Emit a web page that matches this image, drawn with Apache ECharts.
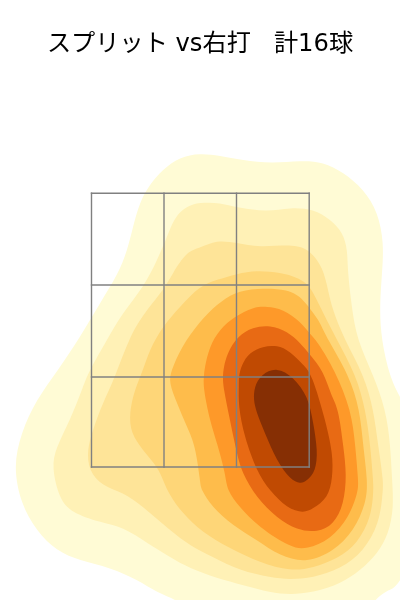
<!DOCTYPE html>
<html><head><meta charset="utf-8">
<style>html,body{margin:0;padding:0;background:#fff}#c{width:400px;height:600px}</style>
<script src="https://cdn.jsdelivr.net/npm/echarts@6/dist/echarts.min.js"></script>
</head><body><div id="c"></div>
<script>
const titleText = "スプリット vs右打   計16球";
const level1 = [[0,446],[20,444],[43,440],[72,437],[100,439],[123,437],[143,427],[163,410],[177,387],[183,357],[182,327],[180,293],[182,260],[190,225],[200,202],[220,160],[225,80],[200,18],[187,10],[175,0],[160,-12],[100,-28],[-5,-10],[-23,0],[-43,8],[-63,20],[-90,32],[-120,40],[-143,50],[-163,70],[-178,97],[-185,133],[-178,167],[-163,200],[-142,230],[-120,263],[-100,297],[-83,325],[-73,350],[-67,373],[-60,397],[-50,415],[-37,430],[-20,442]];
const level2 = [[0,397],[20,397],[40,392],[67,389],[90,392],[113,390],[130,380],[142,367],[147,350],[148,327],[152,293],[158,260],[173,225],[185,190],[190,155],[192,120],[193,93],[188,67],[177,47],[160,30],[140,17],[113,8],[90,6],[70,8],[43,15],[17,22],[-10,32],[-30,43],[-53,57],[-77,72],[-100,78],[-127,88],[-140,103],[-147,132],[-143,153],[-130,180],[-117,213],[-110,230],[-93,260],[-77,287],[-57,313],[-43,340],[-33,363],[-25,382],[-13,393]];
const level3 = [[0,352],[17,359],[37,357],[60,353],[93,355],[110,348],[122,332],[128,310],[133,290],[145,260],[163,225],[173,190],[178,155],[183,120],[182,103],[178,77],[163,50],[140,32],[113,23],[90,21],[70,23],[40,30],[13,43],[-10,55],[-30,70],[-57,93],[-77,107],[-97,115],[-110,130],[-112,150],[-107,170],[-97,197],[-85,223],[-70,263],[-53,290],[-37,310],[-27,327],[-13,347]];
const level4 = [[0,313],[17,320],[37,326],[57,329],[80,327],[97,322],[110,313],[123,287],[137,260],[155,225],[165,190],[170,155],[173,120],[173,107],[170,83],[157,58],[137,42],[113,33],[90,30],[60,38],[30,52],[3,68],[-17,87],[-30,105],[-37,120],[-43,133],[-57,150],[-68,167],[-70,187],[-65,210],[-57,230],[-50,250],[-37,273],[-20,293]];
const level5 = [[0,278],[17,295],[35,307],[57,311],[87,310],[103,300],[113,287],[120,277],[128,260],[148,225],[159,190],[163,155],[167,120],[165,97],[153,70],[133,50],[107,39],[80,45],[57,60],[33,75],[13,93],[2,110],[0,120],[-5,153],[-13,173],[-23,197],[-30,217],[-28,230],[-18,253]];
const level6 = [[4,223],[5,233],[10,253],[20,270],[35,283],[53,292],[67,293],[83,290],[100,278],[109,267],[118,257],[135,228],[150,190],[155,155],[158,120],[157,107],[148,83],[130,62],[107,52],[90,54],[60,73],[40,93],[28,110],[25,127],[17,157],[10,180],[4,210]];
const level7 = [[23,223],[24,233],[28,247],[38,263],[53,272],[70,274],[87,268],[100,257],[110,245],[123,228],[131,205],[138,190],[143,155],[146,125],[143,97],[133,77],[117,69],[97,71],[77,83],[57,103],[43,127],[37,147],[30,180],[24,210]];
const level8 = [[39,223],[42,235],[50,247],[63,253],[77,254],[90,248],[103,235],[112,223],[125,180],[132,147],[132,123],[127,103],[113,92],[103,88],[87,93],[70,110],[57,130],[45,163],[39,193],[39,213]];
const level9 = [[55,213],[62,225],[77,231],[93,222],[107,203],[113,177],[117,150],[115,130],[107,120],[100,117],[90,122],[77,140],[65,167],[57,187],[54,200]];
const levels = [level1,level2,level3,level4,level5,level6,level7,level8,level9];
const colors = ['#fffbd5','#fff1b6','#fee498','#fed678','#febc4b','#fe9929','#e86a14','#c04a02','#862f04'];
const zoneX = [-108.5,-36,36.5,109.2];
const zoneY = [133,223,315,406.7];

function sharpen(pts, k){
  const n=pts.length;
  return pts.map((p,i)=>{
    const a=pts[(i+n-1)%n], b=pts[(i+1)%n];
    return [p[0]-k*(a[0]-2*p[0]+b[0])/6, p[1]-k*(a[1]-2*p[1]+b[1])/6];
  });
}
function closedSplinePath(raw){
  const pts=sharpen(raw,0.75);
  const n=pts.length, f=v=>v.toFixed(2);
  let d='';
  for(let i=0;i<n;i++){
    const a=pts[i], b=pts[(i+1)%n], c=pts[(i+2)%n], e=pts[(i+3)%n];
    const sx=(a[0]+4*b[0]+c[0])/6, sy=(a[1]+4*b[1]+c[1])/6;
    if(i===0) d+='M'+f(sx)+' '+f(sy);
    d+='C'+f((2*b[0]+c[0])/3)+' '+f((2*b[1]+c[1])/3)+' '+f((b[0]+2*c[0])/3)+' '+f((b[1]+2*c[1])/3)+' '+f((b[0]+4*c[0]+e[0])/6)+' '+f((b[1]+4*c[1]+e[1])/6);
  }
  return d+'Z';
}
function contourSeries(points, color){
  return {
    type:'custom', coordinateSystem:'cartesian2d', silent:true, animation:false,
    clip:false, data:points,
    renderItem(params, api){
      if(params.dataIndex!==0) return null;
      return {type:'path', shape:{pathData:closedSplinePath(points.map(p=>api.coord(p)))},
              style:{fill:color, stroke:null}};
    }
  };
}
const zoneLines = [];
zoneX.forEach(x=>zoneLines.push([x,zoneY[0],x,zoneY[3]]));
zoneY.forEach(y=>zoneLines.push([zoneX[0],y,zoneX[3],y]));
const zoneSeries = {
  type:'custom', coordinateSystem:'cartesian2d', silent:true, animation:false, clip:false,
  data:zoneLines, z:5,
  renderItem(params, api){
    const a=api.coord([api.value(0),api.value(1)]), b=api.coord([api.value(2),api.value(3)]);
    return {type:'line', shape:{x1:a[0],y1:a[1],x2:b[0],y2:b[1]}, style:{stroke:'#808080',lineWidth:1.4,lineCap:'square'}};
  }
};
const chart = echarts.init(document.getElementById('c'),null,{renderer:'canvas'});
chart.setOption({
  animation:false, backgroundColor:'#fff',
  title:{text:titleText,left:'center',top:28,textStyle:{fontFamily:'"DejaVu Sans","Noto Sans CJK JP"',fontSize:24.2,fontWeight:'normal',color:'#000'}},
  grid:{left:0,right:0,top:0,bottom:0},
  xAxis:{type:'value',min:-200,max:200,show:false},
  yAxis:{type:'value',min:0,max:600,show:false},
  series:levels.map((l,i)=>contourSeries(l,colors[i])).concat([zoneSeries])
});
</script></body></html>
